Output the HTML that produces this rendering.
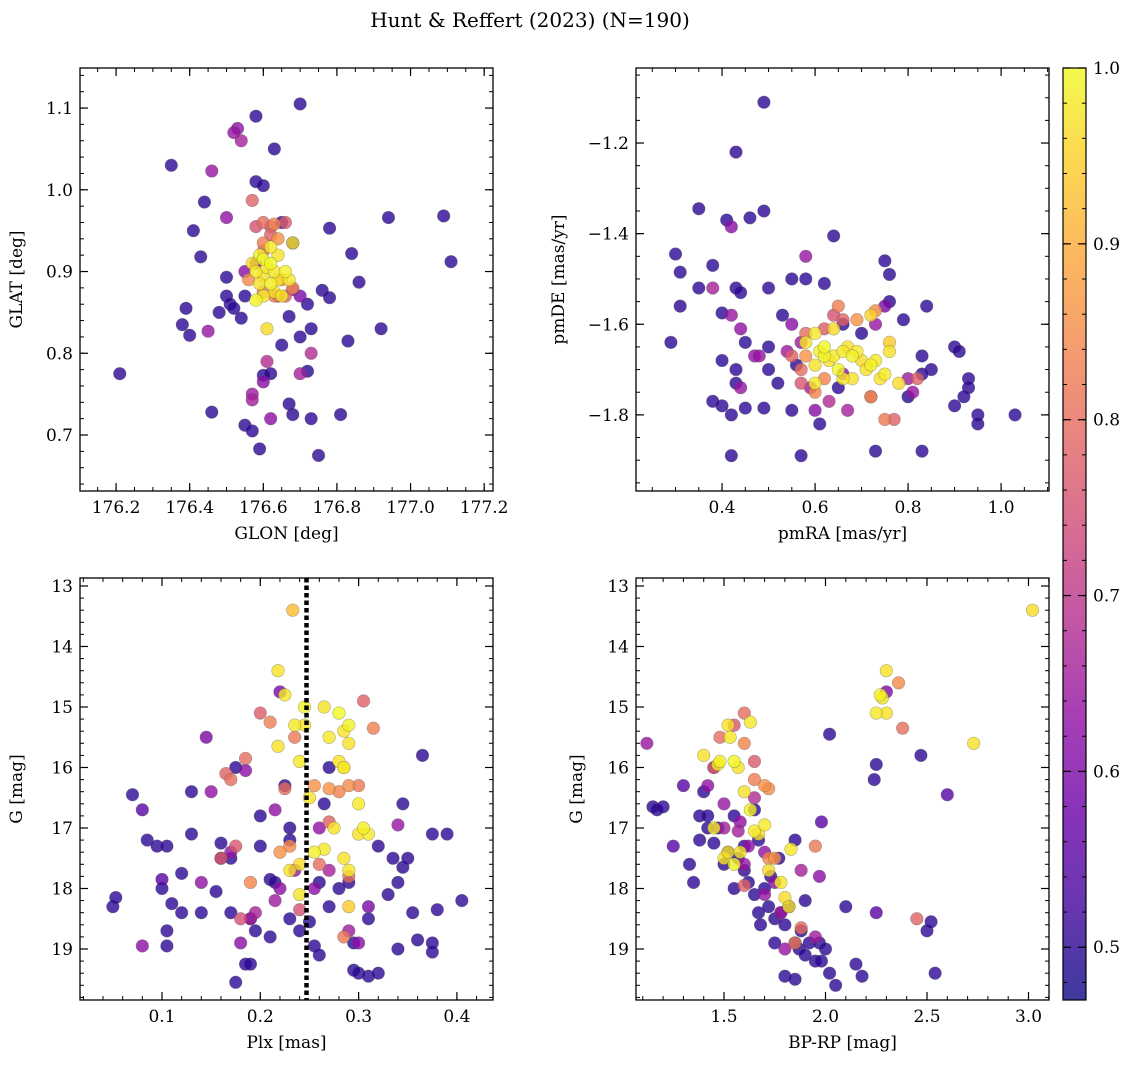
<!DOCTYPE html>
<html><head><meta charset="utf-8"><style>
html,body{margin:0;padding:0;background:#fff;}
svg{display:block;font-family:"DejaVu Serif","Liberation Serif",serif;}
</style></head><body>
<svg id="fig" width="1136" height="1068" viewBox="0 0 1136 1068">
<text x="530" y="27" font-size="20" text-anchor="middle">Hunt &amp; Reffert (2023) (N=190)</text>
</svg>
<script>
// ---- data: [x, y, colour value] ----
const posData = [
[176.35,1.03,.5],[176.21,.775,.5],[176.38,.835,.5],[176.39,.855,.5],[176.4,.822,.5],[176.41,.95,.5],[176.43,.918,.5],[176.44,.985,.5],[176.46,.728,.5],[176.48,.85,.5],[176.5,.893,.5],[176.5,.87,.5],[176.51,.86,.5],[176.52,.855,.5],[176.54,.843,.5],[176.55,.712,.5],[176.55,.87,.5],[176.57,.705,.5],[176.58,1.09,.5],[176.58,1.01,.5],[176.6,1.005,.5],[176.59,.683,.5],[176.6,.773,.5],[176.62,.775,.5],[176.63,1.05,.5],[176.65,.81,.5],[176.67,.738,.5],[176.68,.725,.5],[176.7,1.105,.5],[176.73,.72,.5],[176.73,.83,.5],[176.75,.675,.5],[176.76,.877,.5],[176.78,.868,.5],[176.78,.953,.5],[176.81,.725,.5],[176.83,.815,.5],[176.84,.922,.5],[176.86,.887,.5],[176.92,.83,.5],[176.94,.966,.5],[177.09,.968,.5],[177.11,.912,.5],[176.72,.778,.5],[176.68,.935,.5],[176.65,.96,.5],[176.67,.845,.5],[176.7,.82,.5],[176.72,.86,.5],
[176.52,1.07,.64],[176.54,1.06,.66],[176.53,1.075,.63],[176.46,1.023,.64],[176.5,.966,.63],[176.45,.827,.64],[176.55,.9,.62],[176.57,.75,.65],[176.57,.743,.66],[176.6,.765,.62],[176.61,.79,.68],[176.62,.72,.62],[176.73,.8,.68],[176.7,.775,.66],[176.68,.878,.63],[176.7,.87,.6],[176.64,.87,.65],[176.58,.91,.64],
[176.57,.987,.78],[176.6,.96,.8],[176.62,.955,.76],[176.63,.958,.84],[176.66,.96,.77],[176.58,.955,.75],[176.6,.935,.83],[176.62,.945,.78],[176.64,.94,.86],[176.56,.89,.85],[176.6,.875,.82],[176.63,.87,.84],[176.66,.87,.78],[176.68,.88,.85],[176.6,.925,.8],[176.65,.89,.86],
[176.57,.91,.97],[176.58,.9,.98],[176.59,.92,.99],[176.6,.915,1],[176.6,.895,.97],[176.61,.905,.98],[176.62,.91,1],[176.63,.9,.98],[176.64,.89,.97],[176.62,.885,.99],[176.6,.87,.98],[176.61,.83,.96],[176.64,.92,.97],[176.66,.9,.99],[176.67,.89,.98],[176.68,.935,.97],[176.62,.93,.98],[176.59,.885,.97],[176.58,.865,.99],[176.65,.87,.98],[176.63,.875,.97]];
const pmData = [
[.49,-1.11,.5],[.43,-1.22,.5],[.49,-1.35,.5],[.35,-1.345,.5],[.46,-1.365,.5],[.41,-1.37,.5],[.42,-1.385,.62],[.3,-1.445,.5],[.64,-1.405,.5],[.31,-1.485,.5],[.38,-1.47,.5],[.35,-1.52,.5],[.31,-1.56,.5],[.4,-1.575,.5],[.43,-1.52,.5],[.44,-1.53,.5],[.5,-1.52,.5],[.55,-1.5,.5],[.53,-1.58,.5],[.58,-1.5,.5],[.62,-1.51,.5],[.29,-1.64,.5],[.4,-1.68,.5],[.43,-1.7,.5],[.43,-1.73,.5],[.38,-1.77,.5],[.4,-1.78,.5],[.42,-1.8,.5],[.49,-1.785,.5],[.45,-1.785,.5],[.45,-1.64,.5],[.5,-1.65,.5],[.55,-1.79,.5],[.57,-1.89,.5],[.42,-1.89,.5],[.61,-1.82,.5],[.73,-1.88,.5],[.83,-1.88,.5],[.75,-1.46,.5],[.76,-1.49,.5],[.76,-1.55,.5],[.79,-1.59,.5],[.84,-1.56,.5],[.83,-1.67,.5],[.85,-1.7,.5],[.9,-1.65,.5],[.91,-1.66,.5],[.93,-1.72,.5],[.93,-1.74,.5],[.92,-1.76,.5],[.95,-1.8,.5],[.95,-1.82,.5],[.9,-1.78,.5],[1.03,-1.8,.5],[.83,-1.71,.5],[.8,-1.76,.5],[.66,-1.6,.5],[.7,-1.62,.5],[.5,-1.7,.5],[.52,-1.73,.5],[.56,-1.69,.5],[.65,-1.74,.5],
[.42,-1.58,.64],[.44,-1.61,.63],[.44,-1.74,.64],[.38,-1.52,.66],[.58,-1.45,.64],[.47,-1.67,.63],[.55,-1.6,.62],[.57,-1.64,.65],[.59,-1.74,.66],[.6,-1.79,.62],[.63,-1.77,.68],[.67,-1.79,.66],[.72,-1.76,.63],[.73,-1.6,.64],[.75,-1.56,.6],[.8,-1.72,.65],[.81,-1.75,.64],[.66,-1.71,.63],[.54,-1.66,.65],[.48,-1.67,.64],
[.55,-1.67,.78],[.57,-1.7,.8],[.57,-1.73,.76],[.6,-1.75,.84],[.62,-1.61,.77],[.64,-1.58,.75],[.65,-1.56,.83],[.66,-1.59,.78],[.69,-1.59,.86],[.73,-1.57,.85],[.75,-1.81,.82],[.77,-1.81,.78],[.58,-1.62,.8],[.58,-1.67,.86],[.82,-1.72,.78],[.62,-1.72,.84],[.72,-1.76,.86],
[.58,-1.64,.97],[.6,-1.62,.98],[.61,-1.66,.99],[.62,-1.65,1],[.63,-1.68,.97],[.64,-1.67,.98],[.65,-1.7,1],[.66,-1.66,.98],[.67,-1.65,.97],[.68,-1.67,.99],[.69,-1.66,.98],[.7,-1.68,.96],[.71,-1.7,.97],[.72,-1.69,.99],[.73,-1.68,.98],[.74,-1.72,.97],[.75,-1.71,.98],[.76,-1.66,.97],[.6,-1.73,.98],[.62,-1.67,.99],[.6,-1.69,.97],[.66,-1.72,.98],[.68,-1.72,.97],[.64,-1.61,.96],[.72,-1.58,.95],[.76,-1.64,.94],[.78,-1.73,.96]];
const plxData = [
[.05,18.3,.5],[.053,18.15,.5],[.07,16.45,.5],[.08,16.7,.55],[.085,17.2,.5],[.095,17.3,.5],[.1,18,.5],[.1,17.85,.55],[.105,17.3,.5],[.11,18.25,.5],[.105,18.95,.5],[.105,18.7,.5],[.12,17.75,.5],[.12,18.4,.5],[.13,17.1,.5],[.13,16.4,.5],[.14,18.4,.5],[.155,18.05,.5],[.16,17.25,.5],[.17,18.4,.5],[.175,16,.5],[.17,17.5,.5],[.175,19.55,.5],[.185,19.25,.5],[.19,18.5,.5],[.195,18.7,.5],[.2,17.3,.5],[.21,17.85,.5],[.21,18.8,.5],[.22,14.75,.6],[.215,17.9,.5],[.225,16.3,.5],[.23,17,.5],[.23,17.2,.5],[.24,18.7,.5],[.25,18.55,.5],[.255,18.95,.5],[.26,19.1,.5],[.26,17.9,.5],[.27,16,.5],[.265,16.6,.5],[.28,18,.5],[.29,17.9,.5],[.295,19.35,.5],[.3,19.4,.5],[.31,18.5,.5],[.31,19.45,.5],[.32,19.4,.5],[.32,17.3,.5],[.33,18.1,.5],[.335,17.5,.5],[.34,19,.5],[.34,17.9,.5],[.345,17.65,.5],[.345,16.6,.5],[.35,17.5,.5],[.355,18.4,.5],[.36,18.85,.5],[.365,15.8,.5],[.375,17.1,.5],[.375,18.9,.5],[.375,19.05,.5],[.38,18.35,.5],[.39,17.1,.5],[.405,18.2,.5],[.08,18.95,.62],[.19,19.25,.5],[.295,18.9,.5],[.27,18.3,.5],[.23,18.5,.5],[.2,16.8,.5],[.16,17.5,.5],
[.145,15.5,.6],[.15,16.4,.63],[.17,17.4,.64],[.18,18.9,.62],[.19,18.5,.66],[.215,16.7,.63],[.215,18.2,.65],[.22,18,.62],[.195,18.4,.66],[.235,17.7,.64],[.26,17,.63],[.255,18,.62],[.29,18.7,.65],[.31,18.3,.6],[.34,16.95,.64],[.3,18.9,.62],[.27,17.7,.66],[.14,17.9,.63],[.185,16.05,.62],
[.165,16.1,.78],[.17,16.2,.8],[.175,17.3,.76],[.185,15.85,.8],[.19,17.9,.84],[.2,15.1,.77],[.21,15.25,.83],[.22,17.4,.86],[.225,16.35,.8],[.23,17.3,.85],[.235,15.5,.82],[.24,18.35,.75],[.26,17.6,.8],[.27,16.9,.78],[.27,16.35,.86],[.28,16.4,.84],[.29,16.3,.85],[.3,16.3,.82],[.305,14.9,.78],[.315,15.35,.83],[.285,18.8,.82],[.29,17.8,.8],[.255,16.3,.86],[.16,17.5,.77],[.18,18.5,.75],
[.233,13.4,.92],[.218,14.4,.97],[.225,14.8,.98],[.218,15.65,.97],[.235,15.3,.98],[.245,15,.99],[.245,15.3,.97],[.24,15.9,.98],[.25,16.5,.97],[.255,17.4,.99],[.265,15,.97],[.27,15.5,.98],[.28,15.1,1],[.285,15.4,.97],[.285,16,.98],[.29,15.3,.99],[.29,15.6,.97],[.3,16.6,.98],[.285,17.5,.97],[.29,17.7,.98],[.3,17.1,.97],[.305,17,.99],[.31,17.1,.98],[.275,17,.97],[.265,17.35,.98],[.24,18.1,.97],[.24,17.6,.96],[.23,17.7,.97],[.29,18.3,.94],[.285,16,.96],[.28,15.9,.97]];
const cmdData = [
[1.15,16.65,.5],[1.17,16.7,.5],[1.2,16.65,.5],[1.25,17.3,.55],[1.3,16.3,.55],[1.33,17.6,.5],[1.35,17.9,.5],[1.38,16.8,.5],[1.4,16.4,.5],[1.42,16.8,.5],[1.45,17.25,.5],[1.47,17,.5],[1.5,17.6,.5],[1.52,17.4,.5],[1.55,16.8,.5],[1.57,17.5,.5],[1.6,17.3,.5],[1.62,17.9,.5],[1.65,18.1,.5],[1.67,18.4,.5],[1.68,18.6,.5],[1.7,18,.5],[1.72,18.3,.5],[1.75,18.5,.5],[1.77,17.5,.5],[1.78,18.4,.5],[1.8,18.6,.5],[1.82,18.3,.5],[1.85,18.9,.5],[1.87,19,.5],[1.88,18.7,.5],[1.9,19.1,.5],[1.92,18.9,.5],[1.95,19.2,.5],[1.97,18.9,.5],[1.98,19.2,.5],[2,19,.5],[2.02,19.4,.5],[2.05,19.6,.5],[2.1,18.3,.5],[2.15,19.25,.5],[2.18,19.45,.5],[2.02,15.45,.5],[1.98,16.9,.55],[2.25,18.4,.55],[2.24,16.2,.5],[2.25,15.95,.5],[2.47,15.8,.5],[2.5,18.7,.5],[2.52,18.55,.5],[2.54,19.4,.5],[2.6,16.45,.55],[1.67,17.2,.5],[1.73,17.8,.5],[1.6,17.7,.5],[1.55,18,.5],[1.9,18.2,.5],[1.85,17.2,.5],[1.65,16.7,.5],[1.45,16,.5],[1.42,17,.5],[1.38,17.2,.5],[1.75,18.9,.5],[1.8,19.45,.5],[1.85,19.5,.5],
[1.12,15.6,.64],[1.42,16.3,.63],[1.5,16.6,.64],[1.57,17.05,.66],[1.6,17.6,.64],[1.7,17.4,.63],[1.75,17.9,.62],[1.78,18.4,.65],[1.88,17.7,.66],[1.97,17.8,.62],[1.65,16.5,.68],[1.5,17,.66],[1.62,17.3,.63],[1.7,18.1,.64],[2.3,14.75,.6],[1.95,18.8,.65],[1.8,19,.64],[1.58,16.9,.63],
[1.45,16,.78],[1.48,15.5,.8],[1.55,15.3,.76],[1.6,15.1,.8],[1.6,15.6,.84],[1.65,15.9,.77],[1.65,16.2,.83],[1.7,16.3,.86],[1.72,16.35,.85],[1.95,17.3,.82],[2.36,14.6,.85],[2.38,15.35,.8],[2.45,18.5,.78],[1.85,18.9,.82],[1.88,18.65,.8],[1.75,17.5,.86],[1.6,17.95,.78],[1.72,17.5,.84],
[1.4,15.8,.97],[1.47,15.95,.98],[1.48,15.9,.99],[1.52,15.3,.97],[1.53,15.5,.98],[1.55,15.9,1],[1.57,16,.97],[1.63,15.25,.98],[1.6,16.4,.97],[1.63,16.7,.99],[1.65,17.05,.98],[1.67,17.1,.97],[1.7,16.95,.98],[1.5,17.5,.97],[1.55,17.6,.99],[1.45,17,.98],[1.52,17.4,.97],[1.72,17.7,.96],[1.8,18.15,.96],[1.82,18.3,.97],[1.83,17.35,.98],[2.3,14.4,.97],[2.28,14.85,.98],[2.3,15.1,.97],[2.25,15.1,.98],[2.27,14.8,.99],[2.73,15.6,.97],[3.02,13.4,.96],[1.58,17.4,.97],[1.78,17.9,.98]];
const plxCut = 0.247;
const cbTicks = [0.5,0.6,0.7,0.8,0.9,1.0];
const cbRange = [0.47, 1.0];

const NS="http://www.w3.org/2000/svg";
const svg=document.getElementById('fig');
function mk(tag,attrs,parent){const e=document.createElementNS(NS,tag);for(const k in attrs)e.setAttribute(k,attrs[k]);(parent||svg).appendChild(e);return e;}
const stops=[[0,[13,8,135]],[.1,[65,4,157]],[.2,[106,0,168]],[.3,[143,13,164]],[.4,[177,42,144]],[.5,[204,71,120]],[.6,[225,100,98]],[.7,[242,132,75]],[.8,[252,166,54]],[.9,[252,206,37]],[1,[240,249,33]]];
function plasma(t){t=Math.max(0,Math.min(1,t));for(let i=1;i<stops.length;i++){if(t<=stops[i][0]){const a=stops[i-1],b=stops[i],f=(t-a[0])/(b[0]-a[0]);const c=a[1].map((v,j)=>Math.round(v+(b[1][j]-v)*f));return `rgb(${c})`;}}return 'rgb(240,249,33)';}
function cnorm(c){return (c-cbRange[0])/(cbRange[1]-cbRange[0]);}
function fmt(v,d){return v.toFixed(d).replace('-','\u2212');}

function panel(o){
  const g=mk('g',{});
  
  
  const {L,T,R,B}=o;
  const sx=v=>L+(v-o.x0)/(o.x1-o.x0)*(R-L);
  const sy=v=>T+(v-o.y0)/(o.y1-o.y0)*(B-T);
  const clip=mk('clipPath',{id:'c'+o.name},g);mk('rect',{x:L,y:T,width:R-L,height:B-T},clip);
  const pts=mk('g',{'clip-path':`url(#c${o.name})`},g);
  const sorted=o.data.slice().sort((a,b)=>a[2]-b[2]);
  sorted.forEach(p=>{
    const c=mk('circle',{cx:sx(p[0]),cy:sy(p[1]),r:6.3,fill:plasma(cnorm(p[2])),'fill-opacity':0.8,stroke:'#555','stroke-opacity':0.45,'stroke-width':0.6},pts);
    
    
  });
  if(o.vline!==undefined){const l=mk('line',{x1:sx(o.vline),x2:sx(o.vline),y1:T,y2:B,stroke:'#000','stroke-width':4.5,'stroke-dasharray':'4.5,3'},g);
    }
  const frame=mk('rect',{x:L,y:T,width:R-L,height:B-T,fill:'none',stroke:'#000','stroke-width':1.3},g);
  
  const lo=(a,b)=>Math.min(a,b),hi=(a,b)=>Math.max(a,b);
  function ticks(step,x0,x1){const r=[];for(let v=Math.ceil(lo(x0,x1)/step-1e-6)*step;v<=hi(x0,x1)+1e-9;v+=step)r.push(+v.toFixed(6));return r;}
  ticks(o.xminor,o.x0,o.x1).forEach(v=>{const x=sx(v);mk('line',{x1:x,x2:x,y1:B,y2:B-4,stroke:'#000'},g);mk('line',{x1:x,x2:x,y1:T,y2:T+4,stroke:'#000'},g);});
  ticks(o.yminor,o.y0,o.y1).forEach(v=>{const y=sy(v);mk('line',{x1:L,x2:L+4,y1:y,y2:y,stroke:'#000'},g);mk('line',{x1:R,x2:R-4,y1:y,y2:y,stroke:'#000'},g);});
  ticks(o.xmajor,o.x0,o.x1).forEach(v=>{const x=sx(v);mk('line',{x1:x,x2:x,y1:B,y2:B-8,stroke:'#000','stroke-width':1.2},g);mk('line',{x1:x,x2:x,y1:T,y2:T+8,stroke:'#000','stroke-width':1.2},g);
    const t=mk('text',{x:x,y:B+22,'font-size':17,'text-anchor':'middle'},g);t.textContent=fmt(v,o.xd);});
  ticks(o.ymajor,o.y0,o.y1).forEach(v=>{const y=sy(v);mk('line',{x1:L,x2:L+8,y1:y,y2:y,stroke:'#000','stroke-width':1.2},g);mk('line',{x1:R,x2:R-8,y1:y,y2:y,stroke:'#000','stroke-width':1.2},g);
    const t=mk('text',{x:L-7,y:y+6,'font-size':17,'text-anchor':'end'},g);t.textContent=fmt(v,o.yd);});
  const xl=mk('text',{x:(L+R)/2,y:B+48,'font-size':17,'text-anchor':'middle'},g);xl.textContent=o.xlabel;
  const yx=o.ylx, yy=(T+B)/2;
  const yl=mk('text',{x:yx,y:yy,'font-size':17,'text-anchor':'middle',transform:`rotate(-90 ${yx} ${yy})`},g);yl.textContent=o.ylabel;
}
panel({name:'position-panel',data:posData,L:80,T:68,R:493,B:491,x0:176.102,x1:177.224,y0:1.149,y1:0.6315,xmajor:.2,xminor:.05,ymajor:.1,yminor:.02,xd:1,yd:1,xlabel:'GLON [deg]',ylabel:'GLAT [deg]',ylx:22});
panel({name:'proper-motion-panel',data:pmData,L:636,T:68,R:1049,B:491,x0:0.215,x1:1.103,y0:-1.0344,y1:-1.968,xmajor:.2,xminor:.05,ymajor:.2,yminor:.05,xd:1,yd:1,xlabel:'pmRA [mas/yr]',ylabel:'pmDE [mas/yr]',ylx:564});
panel({name:'parallax-panel',data:plxData,L:80,T:578,R:493,B:1000,x0:0.0166,x1:0.4367,y0:12.868,y1:19.843,xmajor:.1,xminor:.02,ymajor:1,yminor:.2,xd:1,yd:0,xlabel:'Plx [mas]',ylabel:'G [mag]',ylx:22,vline:plxCut});
panel({name:'cmd-panel',data:cmdData,L:636,T:578,R:1049,B:1000,x0:1.0665,x1:3.101,y0:12.868,y1:19.843,xmajor:.5,xminor:.1,ymajor:1,yminor:.2,xd:1,yd:0,xlabel:'BP-RP [mag]',ylabel:'G [mag]',ylx:582});

// colorbar
(function(){
  const g=mk('g',{});
  const L=1063,R=1086,T=68,B=1000;
  const defs=mk('defs',{},g);const lg=mk('linearGradient',{id:'cbg',x1:0,y1:1,x2:0,y2:0},defs);
  for(let i=0;i<=20;i++)mk('stop',{offset:i/20,'stop-color':plasma(i/20),'stop-opacity':0.8},lg);
  mk('rect',{x:L,y:T,width:R-L,height:B-T,fill:'url(#cbg)',stroke:'#000','stroke-width':1.2},g);
  const sy=v=>B-(v-cbRange[0])/(cbRange[1]-cbRange[0])*(B-T);
  for(let v=0.48;v<=1.0001;v+=0.02){const y=sy(v);mk('line',{x1:R,x2:R-4,y1:y,y2:y,stroke:'#000'},g);mk('line',{x1:L,x2:L+4,y1:y,y2:y,stroke:'#000'},g);}
  cbTicks.forEach(v=>{const y=sy(v);mk('line',{x1:R,x2:R-8,y1:y,y2:y,stroke:'#000','stroke-width':1.2},g);mk('line',{x1:L,x2:L+8,y1:y,y2:y,stroke:'#000','stroke-width':1.2},g);
    const t=mk('text',{x:R+7,y:y+6,'font-size':17},g);t.textContent=v.toFixed(1);});
})();
</script>
</body></html>
